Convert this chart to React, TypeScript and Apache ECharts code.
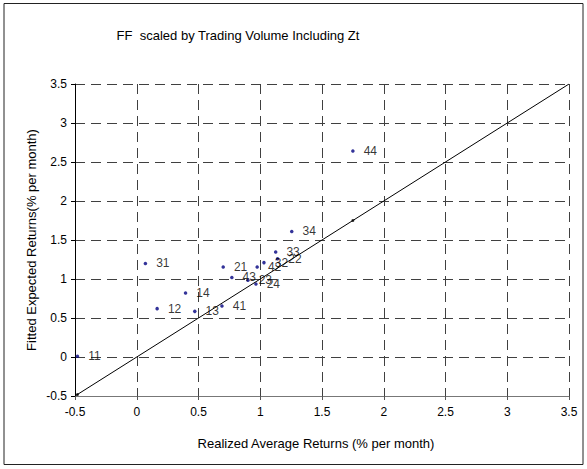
import React, { useEffect, useRef } from "react";
import * as echarts from "echarts";

// Portfolio labels and their realized vs fitted average returns (% per month)
const portfolios = ["11", "12", "13", "14", "21", "22", "23", "24", "31", "32", "33", "34", "41", "42", "43", "44"];
const realizedReturns = [-0.48, 0.165, 0.47, 0.395, 0.7, 1.14, 0.9, 0.965, 0.07, 1.03, 1.125, 1.255, 0.69, 0.975, 0.77, 1.75];
const fittedReturns = [0.01, 0.62, 0.585, 0.82, 1.155, 1.26, 0.985, 0.935, 1.2, 1.21, 1.345, 1.61, 0.655, 1.155, 1.02, 2.64];

// 45-degree reference line end points
const diagonal = [-0.5, 3.5];
const axisMin = -0.5;
const axisMax = 3.5;
const tickStep = 0.5;

const titleText = "FF  scaled by Trading Volume Including Zt";
const xTitle = "Realized Average Returns (% per month)";
const yTitle = "Fitted Expected Returns(% per month)";

const FONT = "'Liberation Sans', Arial, sans-serif";

export default function App() {
  const ref = useRef<HTMLDivElement>(null);

  useEffect(() => {
    document.body.style.margin = "0";
    if (!ref.current) return;
    const chart = echarts.init(ref.current, undefined, { renderer: "svg" });

    const points = portfolios.map((p, i) => ({ name: p, value: [realizedReturns[i], fittedReturns[i]] }));
    const lo = Math.min(...realizedReturns);
    const hi = Math.max(...realizedReturns);

    const gridLine = { color: "#404040", width: 1, type: [10, 6] as any };

    chart.setOption({
      animation: false,
      backgroundColor: "#fff",
      textStyle: { fontFamily: FONT },
      grid: { left: 75, right: 18, top: 84, bottom: 73 },
      xAxis: {
        type: "value",
        min: axisMin,
        max: axisMax,
        interval: tickStep,
        axisLine: { show: true, onZero: false, lineStyle: { color: "#777", width: 1 } },
        axisTick: { show: true, length: 4, lineStyle: { color: "#555" } },
        axisLabel: { color: "#000", fontSize: 12, fontFamily: FONT, margin: 10 },
        splitLine: { show: true, lineStyle: gridLine },
      },
      yAxis: {
        type: "value",
        min: axisMin,
        max: axisMax,
        interval: tickStep,
        axisLine: { show: true, onZero: false, lineStyle: { color: "#000", width: 1 } },
        axisTick: { show: true, length: 4, lineStyle: { color: "#000" } },
        axisLabel: { color: "#000", fontSize: 12, fontFamily: FONT, margin: 8 },
        splitLine: { show: true, lineStyle: gridLine },
      },
      graphic: [
        {
          type: "rect",
          shape: { x: 4, y: 3.5, width: 579, height: 461 },
          style: { fill: "none", stroke: "#222", lineWidth: 1 },
          z: 100,
        },
        {
          type: "text",
          x: 238,
          y: 35,
          style: { text: titleText, font: `13px ${FONT}`, fill: "#000", align: "center", verticalAlign: "middle" },
        },
        {
          type: "text",
          x: 316,
          y: 443,
          style: { text: xTitle, font: `13px ${FONT}`, fill: "#000", align: "center", verticalAlign: "middle" },
        },
        {
          type: "text",
          x: 31,
          y: 240,
          rotation: Math.PI / 2,
          style: { text: yTitle, font: `13px ${FONT}`, fill: "#000", align: "center", verticalAlign: "middle" },
        },
      ],
      series: [
        {
          type: "line",
          data: [
            [diagonal[0], diagonal[0]],
            [diagonal[1], diagonal[1]],
          ],
          showSymbol: false,
          lineStyle: { color: "#000", width: 1 },
          z: 3,
        },
        {
          type: "scatter",
          data: [
            [lo, lo],
            [hi, hi],
          ],
          symbol: "circle",
          symbolSize: 3,
          itemStyle: { color: "#000" },
          z: 4,
        },
        {
          type: "scatter",
          data: points,
          symbol: "circle",
          symbolSize: 3.5,
          itemStyle: { color: "#000080" },
          label: {
            show: true,
            position: "right",
            distance: 9,
            formatter: "{b}",
            color: "#000",
            fontSize: 12,
            fontFamily: FONT,
          },
          z: 2,
        },
      ],
    });

    return () => chart.dispose();
  }, []);

  return <div ref={ref} style={{ width: 587, height: 469 }} />;
}
